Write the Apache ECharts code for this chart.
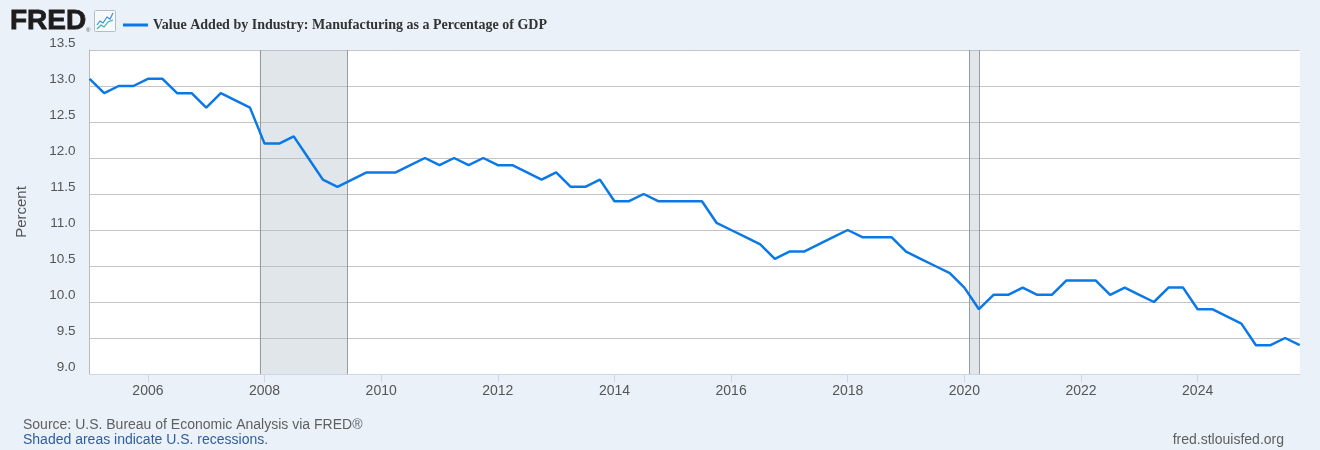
<!DOCTYPE html>
<html>
<head>
<meta charset="utf-8">
<script src="https://cdn.jsdelivr.net/npm/echarts@6/dist/echarts.min.js"></script>
<style>
html,body{margin:0;padding:0;background:#eaf1f9;}
#chart{width:1320px;height:450px;}
</style>
</head>
<body>
<div id="chart"></div>
<script>
// ---- data ----
var seriesName = 'Value Added by Industry: Manufacturing as a Percentage of GDP';
var startYear = 2005; // first observation 2005-01-01, quarterly
var values = [
  13.1,12.9,13.0,13.0,   // 2005
  13.1,13.1,12.9,12.9,   // 2006
  12.7,12.9,12.8,12.7,   // 2007
  12.2,12.2,12.3,12.0,   // 2008
  11.7,11.6,11.7,11.8,   // 2009
  11.8,11.8,11.9,12.0,   // 2010
  11.9,12.0,11.9,12.0,   // 2011
  11.9,11.9,11.8,11.7,   // 2012
  11.8,11.6,11.6,11.7,   // 2013
  11.4,11.4,11.5,11.4,   // 2014
  11.4,11.4,11.4,11.1,   // 2015
  11.0,10.9,10.8,10.6,   // 2016
  10.7,10.7,10.8,10.9,   // 2017
  11.0,10.9,10.9,10.9,   // 2018
  10.7,10.6,10.5,10.4,   // 2019
  10.2,9.9,10.1,10.1,    // 2020
  10.2,10.1,10.1,10.3,   // 2021
  10.3,10.3,10.1,10.2,   // 2022
  10.1,10.0,10.2,10.2,   // 2023
  9.9,9.9,9.8,9.7,       // 2024
  9.4,9.4,9.5,9.4        // 2025
];
var xTickYears = [2006,2008,2010,2012,2014,2016,2018,2020,2022,2024];
var recessions = [['2007-12-01','2009-06-01'],['2020-02-01','2020-04-01']];
var yMin = 9.0, yMax = 13.5, yStep = 0.5;

// ---- helpers ----
function dateToYear(s){
  var p = s.split('-');
  return +p[0] + (+p[1]-1)/12 + (+p[2]-1)/365;
}
var lineData = values.map(function(v,i){ return [startYear + i/4, v]; });
var xMax = startYear + (values.length-1)/4;

var areaData = recessions.map(function(r){
  return [{xAxis: dateToYear(r[0])},{xAxis: dateToYear(r[1])}];
});
var edgeData = [];
recessions.forEach(function(r){
  edgeData.push({xAxis: dateToYear(r[0])});
  edgeData.push({xAxis: dateToYear(r[1])});
});

var FONT = '"Liberation Sans", Arial, sans-serif';
var chart = echarts.init(document.getElementById('chart'), null, {renderer:'canvas'});
chart.setOption({
  animation:false,
  backgroundColor:'#eaf1f9',
  textStyle:{fontFamily:'Liberation Sans, Arial, sans-serif'},
  grid:{left:89.6,right:20.3,top:50,bottom:76,show:true,backgroundColor:'#ffffff',borderWidth:0,containLabel:false,outerBoundsMode:'none'},
  legend:{
    left:118, top:13,
    icon:'rect', itemWidth:25, itemHeight:3, itemGap:10,
    selectedMode:false,
    textStyle:{fontFamily:'Liberation Serif, Times New Roman, serif',fontWeight:'bold',fontSize:14,color:'#333333'},
    data:[seriesName]
  },
  xAxis:{
    type:'value', min:startYear, max:xMax,
    splitLine:{show:false},
    axisLine:{show:true,lineStyle:{color:'#ccd6eb',width:1}},
    axisTick:{show:true,length:8,lineStyle:{color:'#ccd6eb'},customValues:xTickYears},
    axisLabel:{color:'#555555',fontSize:14,margin:10,customValues:xTickYears,formatter:function(v){return String(Math.round(v));}}
  },
  yAxis:{
    type:'value', min:yMin, max:yMax, interval:yStep,
    name:'Percent', nameLocation:'middle', nameRotate:90, nameGap:60,
    nameTextStyle:{color:'#555555',fontSize:15},
    axisLine:{show:true,lineStyle:{color:'#bbbbbb',width:1}},
    axisTick:{show:false},
    splitLine:{show:true,lineStyle:{color:'#c4c4c4',width:1}},
    axisLabel:{color:'#555555',fontSize:13.5,margin:14,verticalAlign:'bottom',lineHeight:13,formatter:function(v){return v.toFixed(1);}}
  },
  series:[{
    name:seriesName,
    type:'line',
    data:lineData,
    showSymbol:false,
    symbol:'none',
    color:'#0a78e6',
    lineStyle:{width:2.5,color:'#0a78e6'},
    z:5,
    markArea:{silent:true,itemStyle:{color:'rgba(175,188,200,0.38)',borderWidth:0},data:areaData},
    markLine:{silent:true,symbol:['none','none'],label:{show:false},lineStyle:{color:'#9a9a9a',width:1,type:'solid'},data:edgeData}
  }],
  graphic:[
    {type:'text',x:10,y:21,style:{text:'FRED',font:'bold 28px "Liberation Sans", Arial, sans-serif',fill:'#1d1b1c',stroke:'#1d1b1c',lineWidth:0.8,verticalAlign:'middle'}},
    {type:'text',x:86,y:30,style:{text:'®',font:'6px "Liberation Sans", Arial',fill:'#555',verticalAlign:'middle'}},
    {type:'rect',shape:{x:94.5,y:10.5,width:21,height:21,r:1},style:{fill:'#f7fafd',stroke:'#b5bcc6',lineWidth:1}},
    {type:'polyline',shape:{points:[[97,25],[100,21],[103,23],[107,17],[110,19],[113,13]]},style:{stroke:'#3b8fe0',lineWidth:1.2,fill:null}},
    {type:'polyline',shape:{points:[[97,29],[101,25],[104,27],[108,22],[113,20]]},style:{stroke:'#3fb39a',lineWidth:1.2,fill:null}},
    {type:'text',x:23,y:425,style:{text:'Source: U.S. Bureau of Economic Analysis via FRED®',font:'14px '+FONT,fill:'#5f5f5f',verticalAlign:'middle'}},
    {type:'text',x:23,y:440,style:{text:'Shaded areas indicate U.S. recessions.',font:'14px '+FONT,fill:'#2f5e9e',verticalAlign:'middle'}},
    {type:'text',x:1284,y:440,style:{text:'fred.stlouisfed.org',font:'14px '+FONT,fill:'#5f5f5f',align:'right',verticalAlign:'middle'}}
  ]
});
</script>
</body>
</html>
